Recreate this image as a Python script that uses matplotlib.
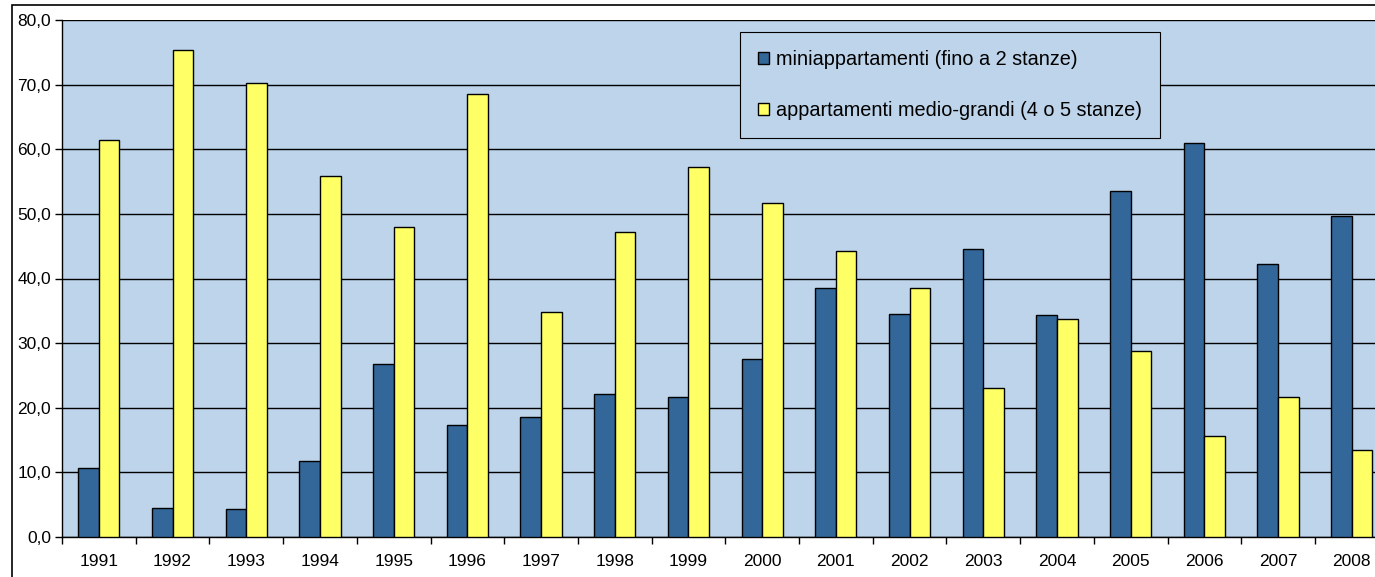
import matplotlib.pyplot as plt
import matplotlib.patches as patches
import numpy as np

plt.rcParams['font.family'] = ['Liberation Sans', 'DejaVu Sans']

years = ['1991', '1992', '1993', '1994', '1995', '1996', '1997', '1998', '1999',
         '2000', '2001', '2002', '2003', '2004', '2005', '2006', '2007', '2008']
mini = [10.7, 4.5, 4.3, 11.7, 26.8, 17.4, 18.6, 22.1, 21.6,
        27.6, 38.5, 34.5, 44.5, 34.3, 53.5, 60.9, 42.2, 49.7]
medio = [61.4, 75.3, 70.3, 55.9, 48.0, 68.6, 34.8, 47.2, 57.2,
         51.7, 44.2, 38.5, 23.1, 33.8, 28.8, 15.6, 21.6, 13.4]
labels = ['miniappartamenti (fino a 2 stanze)',
          'appartamenti medio-grandi (4 o 5 stanze)']
yticks = [0, 10, 20, 30, 40, 50, 60, 70, 80]

fig = plt.figure(figsize=(13.75, 5.77), dpi=100)
# outer chart frame, cut off at right and bottom like the original
fig.patches.append(patches.Rectangle((12 / 1375, -0.1), 1.2, 1.1 - 5 / 577,
                                     transform=fig.transFigure, fill=False,
                                     edgecolor='black', linewidth=1.2))

ax = fig.add_axes([62 / 1375, 1 - 537 / 577, 18 * 73.7 / 1375, 517 / 577])
ax.set_facecolor('#BDD4EA')

x = np.arange(len(years))
w = 0.28
ax.bar(x - w / 2, mini, w, color='#336699', edgecolor='black', linewidth=1,
       label=labels[0], zorder=3)
ax.bar(x + w / 2, medio, w, color='#FFFF66', edgecolor='black', linewidth=1,
       label=labels[1], zorder=3)

ax.set_xlim(-0.5, len(years) - 0.5)
ax.set_ylim(0, 80)
ax.set_yticks(yticks)
ax.set_yticklabels([f'{v:.1f}'.replace('.', ',') for v in yticks], fontsize=12.5)
ax.yaxis.grid(True, color='black', linewidth=1, zorder=1)
ax.set_axisbelow(True)

ax.set_xticks(x)
ax.set_xticklabels(years, fontsize=12.5)
ax.tick_params(axis='x', length=0, pad=12)
ax.set_xticks(np.arange(-0.5, len(years), 1), minor=True)
ax.tick_params(axis='x', which='minor', length=5, width=1)
ax.tick_params(axis='y', length=5, width=1, pad=3)

for s in ['top', 'right']:
    ax.spines[s].set_visible(False)
ax.spines['left'].set_linewidth(1)
ax.spines['bottom'].set_linewidth(1)

leg = ax.legend(loc='upper left', bbox_to_anchor=((740 - 62) / (18 * 73.7), 1 - 12 / 517),
                fontsize=14.3, frameon=True, fancybox=False, facecolor='#BDD4EA',
                edgecolor='black', framealpha=1, handlelength=0.55, handleheight=0.55,
                handletextpad=0.35, labelspacing=1.6, borderpad=0.9, borderaxespad=0)
leg.get_frame().set_linewidth(0.8)

fig.savefig('out.png', dpi=100)
